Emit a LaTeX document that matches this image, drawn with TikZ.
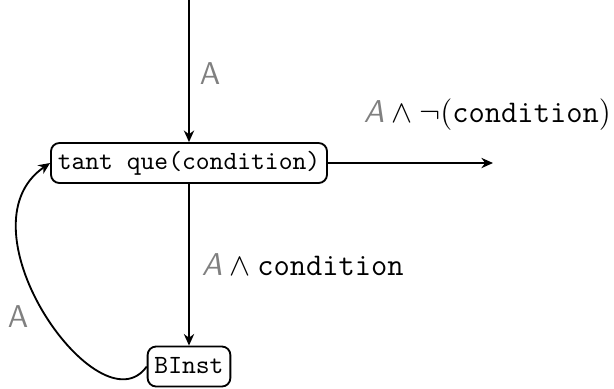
\documentclass[tikz,border=0pt]{standalone}
\usepackage{fontspec}
\usetikzlibrary{arrows.meta}
\begin{document}
\begin{tikzpicture}[x=0.3802pt, y=-0.3802pt,
  every path/.style={line width=0.7pt},
  flow/.style={-{Stealth[length=4.4pt, width=3.9pt, inset=1.4pt]}},
  instr/.style={draw, rounded corners=3.2pt, inner xsep=2.6pt, inner ysep=2.6pt,
    text height=7.5pt, text depth=2.5pt, font=\ttfamily, line width=0.7pt},
  lbl/.style={font=\large, inner sep=0pt},
  graylbl/.style={font=\large\sffamily, text=gray, inner sep=0pt}]
  \useasboundingbox (0,0) rectangle (614,388);

  % instruction nodes
  \node[instr] (loop) at (189,163) {tant que(condition)};
  \node[instr] (body) at (189,366.5) {BInst};
  \coordinate (entry) at (189,0);
  \coordinate (exit) at (493,163);

  % entry into the loop
  \draw[flow] (entry) -- (loop.north);
  \node[graylbl] (lA) at (210,74) {A};

  % exit of the loop
  \draw[flow] (loop.east) -- (exit);
  \node[lbl, anchor=west] (lexit) at (363,115)
    {${\color{gray}\textsf{\textit{A}}}\wedge\neg(\texttt{condition})$};

  % loop body
  \draw[flow] (loop.south) -- (body.north);
  \node[lbl, anchor=west] (lbody) at (201,265)
    {${\color{gray}\textsf{\textit{A}}}\wedge\texttt{condition}$};

  % back edge
  \draw[flow] (body.west) .. controls (100,432) and (-45,228) .. (loop.west);
  \node[graylbl] (lback) at (18,317) {A};
\end{tikzpicture}
\end{document}
